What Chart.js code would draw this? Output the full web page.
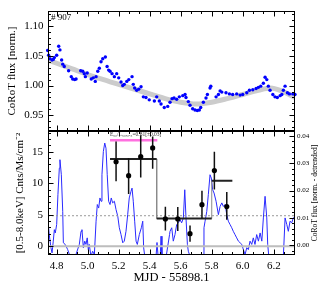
<!DOCTYPE html>
<html>
<head>
<meta charset="utf-8">
<script src="https://cdn.jsdelivr.net/npm/chart.js@4.4.0/dist/chart.umd.min.js"></script>
<style>
  html, body { margin: 0; padding: 0; background: #fff; }
  #wrap { position: relative; width: 327px; height: 291px; }
  #wrap canvas { position: absolute; left: 0; top: 0; }
</style>
</head>
<body>
<div id="wrap">
  <canvas id="fluxChart" width="327" height="291"></canvas>
  <canvas id="xrayChart" width="327" height="291"></canvas>
</div>
<script>
// top panel: CoRoT light curve (MJD - 55898.1 vs normalised flux)
var fluxT = [4.742, 4.748, 4.757, 4.770, 4.778, 4.785, 4.800, 4.813, 4.821, 4.832, 4.839, 4.849, 4.877, 4.894, 4.903,
  4.916, 4.925, 4.955, 4.968, 4.978, 4.985, 4.997, 5.023, 5.036, 5.049, 5.054, 5.065, 5.075, 5.086, 5.097, 5.114,
  5.125, 5.135, 5.144, 5.157, 5.172, 5.187, 5.200, 5.215, 5.226, 5.236, 5.252, 5.265, 5.286, 5.294, 5.303, 5.316,
  5.329, 5.344, 5.359, 5.376, 5.397, 5.430, 5.445, 5.462, 5.473, 5.494, 5.516, 5.531, 5.544,
  5.557, 5.574, 5.591, 5.613, 5.628, 5.634, 5.649, 5.660, 5.677, 5.692, 5.707, 5.720, 5.729, 5.746, 5.763, 5.772,
  5.789, 5.794, 5.828, 5.843, 5.854, 5.865, 5.892, 5.914, 5.935, 5.961, 5.983, 6.000, 6.026, 6.043, 6.065, 6.086,
  6.101, 6.116, 6.133, 6.144, 6.155, 6.165, 6.176, 6.194, 6.208, 6.223, 6.241, 6.252, 6.262, 6.273, 6.288, 6.301,
  6.323, 6.337];
var fluxV = [1.059, 1.051, 1.045, 1.043, 1.044, 1.047, 1.051, 1.066, 1.060, 1.043, 1.036, 1.032, 1.025, 1.015, 1.011,
  1.010, 1.011, 1.025, 1.024, 1.020, 1.015, 1.021, 1.011, 1.013, 1.007, 1.015, 1.024, 1.029, 1.040, 1.045, 1.048,
  1.032, 1.026, 1.024, 1.020, 1.015, 1.020, 1.013, 1.006, 1.000, 1.002, 1.007, 1.010, 1.015, 1.002, 0.996, 0.992,
  0.994, 0.998, 0.981, 0.980, 0.976, 0.974, 0.981, 0.974, 0.969, 0.963, 0.965, 0.972, 0.978,
  0.979, 0.977, 0.981, 0.983, 0.985, 0.980, 0.973, 0.967, 0.961, 0.959, 0.958, 0.959, 0.963, 0.972, 0.979, 0.985,
  0.996, 0.999, 0.981, 0.985, 0.991, 0.989, 0.988, 0.986, 0.985, 0.986, 0.984, 0.985, 0.988, 0.992, 0.993, 0.995,
  0.997, 0.999, 1.004, 1.014, 1.010, 0.999, 0.992, 0.985, 0.981, 0.980, 0.983, 0.985, 0.992, 0.999, 0.988, 0.986,
  0.986, 0.985];

// smooth trend drawn under the light curve
var trendT = [4.744, 4.90, 5.05, 5.20, 5.35, 5.50, 5.60, 5.70, 5.80, 5.90, 6.00, 6.10, 6.18, 6.25, 6.337];
var trendV = [1.043, 1.028, 1.014, 1.002, 0.990, 0.978, 0.972, 0.969, 0.972, 0.978, 0.985, 0.992, 0.996, 0.991, 0.980];

// bottom panel: detrended CoRoT flux (right axis)
var detT = [4.742, 4.752, 4.763, 4.770, 4.778, 4.785, 4.791, 4.800, 4.808, 4.817,
  4.821, 4.830, 4.839, 4.843, 4.855, 4.871, 4.886, 4.918, 4.946, 4.957,
  4.963, 4.972, 4.981, 4.989, 4.997, 5.004, 5.010, 5.021, 5.032, 5.043,
  5.054, 5.062, 5.071, 5.079, 5.086, 5.092, 5.101, 5.110, 5.118, 5.126,
  5.135, 5.144, 5.152, 5.161, 5.172, 5.183, 5.194, 5.204, 5.215, 5.226,
  5.236, 5.247, 5.258, 5.268, 5.279, 5.286, 5.294, 5.303, 5.312, 5.320,
  5.333, 5.346, 5.355, 5.361, 5.368, 5.402, 5.441, 5.447, 5.454, 5.468,
  5.473, 5.479, 5.505, 5.528, 5.531, 5.542, 5.552, 5.563, 5.574, 5.585,
  5.595, 5.606, 5.617, 5.626, 5.634, 5.643, 5.649, 5.660, 5.705, 5.746,
  5.750, 5.757, 5.768, 5.778, 5.789, 5.797, 5.806, 5.815, 5.828, 5.843,
  5.854, 5.865, 5.875, 5.886, 5.897, 5.907, 5.918, 5.929, 5.939, 5.950,
  5.961, 5.972, 5.983, 5.994, 6.004, 6.015, 6.026, 6.036, 6.047, 6.058,
  6.068, 6.079, 6.090, 6.101, 6.112, 6.123, 6.133, 6.144, 6.155, 6.161,
  6.168, 6.215, 6.262, 6.273, 6.284, 6.294, 6.305, 6.316, 6.326, 6.337];
var detV = [0.0100, 0.0039, -0.0009, -0.0028, 0.0015, 0.0057, 0.0045, 0.0076, 0.0185, 0.0282,
  0.0313, 0.0258, 0.0124, 0.0009, 0.0003, -0.0016, -0.0040, -0.0045, 0.0003, 0.0051,
  0.0057, -0.0009, 0.0015, 0.0003, 0.0027, -0.0016, 0.0003, -0.0040, -0.0022, -0.0034,
  0.0088, 0.0149, 0.0136, 0.0173, 0.0161, 0.0258, 0.0343, 0.0374, 0.0355, 0.0258,
  0.0161, 0.0149, 0.0173, 0.0155, 0.0161, 0.0130, 0.0106, 0.0064, 0.0039, 0.0009,
  0.0015, 0.0051, 0.0112, 0.0173, 0.0197, 0.0209, 0.0161, 0.0088, 0.0015, 0.0003,
  0.0039, 0.0064, 0.0088, -0.0009, -0.0040, -0.0045, -0.0040, 0.0010, -0.0040, -0.0040,
  0.0033, -0.0040, -0.0045, 0.0039, 0.0051, 0.0064, 0.0015, 0.0039, 0.0076, 0.0082,
  0.0094, 0.0082, 0.0100, 0.0203, 0.0100, 0.0003, -0.0022, -0.0040, -0.0045, -0.0040,
  0.0064, 0.0088, 0.0124, 0.0185, 0.0258, 0.0246, 0.0203, 0.0191, 0.0161, 0.0112,
  0.0142, 0.0155, 0.0142, 0.0149, 0.0112, 0.0088, 0.0076, 0.0064, 0.0051, 0.0039,
  0.0027, 0.0015, 0.0009, 0.0003, -0.0016, -0.0034, -0.0009, -0.0016, 0.0015, 0.0003,
  0.0027, 0.0003, 0.0039, 0.0015, 0.0045, 0.0015, 0.0100, 0.0179, 0.0100, 0.0003,
  -0.0040, -0.0045, -0.0040, 0.0100, 0.0076, 0.0051, 0.0088, 0.0082, 0.0100, 0.0106];

// X-ray count rates with lower / upper errors (left axis)
var rateT = [5.183, 5.264, 5.342, 5.419, 5.501, 5.581, 5.660, 5.737, 5.817, 5.897];
var rateV = [13.4, 11.2, 14.2, 15.6, 4.33, 4.33, 2.0, 6.6, 12.0, 6.3];
var rateLo = [3.1, 2.9, 3.3, 3.3, 1.85, 1.9, 1.3, 2.2, 3.0, 2.1];
var rateHi = [3.2, 2.8, 3.4, 1.8, 1.95, 1.9, 1.3, 2.2, 3.0, 2.3];

// rate blocks
var blockStart = [5.144, 5.445, 5.800];
var blockEnd = [5.445, 5.800, 5.933];
var blockRate = [13.85, 4.4, 10.4];

// E50 marker and quiescent level
var eSpan = [5.144, 5.449];
var eLevel = 16.8;
var quietLevel = 0.0108;

var xMin = 4.744, xMax = 6.337;
var serif = 'Liberation Serif';

function pts(xs, ys) {
  return xs.map(function (x, i) { return {x: x, y: ys[i]}; });
}

// frame with inward major / minor ticks on every side
var framePlugin = {
  id: 'frame',
  afterDraw: function (chart, args, opts) {
    var ctx = chart.ctx, a = chart.chartArea;
    var L = Math.round(a.left) + 0.5, R = Math.round(a.right) - 0.5;
    var T = Math.round(a.top) + 0.5, B = Math.round(a.bottom) - 0.5;
    ctx.save();
    ctx.strokeStyle = '#000';
    ctx.lineWidth = 1;
    opts.marks.forEach(function (m) {
      var s = chart.scales[m.scale];
      var n0 = Math.ceil(s.min / m.minor - 1e-6), n1 = Math.floor(s.max / m.minor + 1e-6);
      ctx.beginPath();
      for (var i = n0; i <= n1; i++) {
        var v = i * m.minor;
        var q = v / m.major;
        var len = Math.abs(q - Math.round(q)) < 1e-6 ? 5 : 2.5;
        var p = Math.round(s.getPixelForValue(v)) + 0.5;
        m.sides.forEach(function (side) {
          if (side === 'top') { ctx.moveTo(p, T); ctx.lineTo(p, T + len); }
          if (side === 'bottom') { ctx.moveTo(p, B); ctx.lineTo(p, B - len); }
          if (side === 'left') { ctx.moveTo(L, p); ctx.lineTo(L + len, p); }
          if (side === 'right') { ctx.moveTo(R, p); ctx.lineTo(R - len, p); }
        });
      }
      ctx.stroke();
    });
    ctx.strokeRect(L, T, R - L, B - T);
    ctx.restore();
  }
};

// small texts: tag, E50 label, right-hand axis title
var notesPlugin = {
  id: 'notes',
  afterDraw: function (chart, args, opts) {
    var ctx = chart.ctx, a = chart.chartArea;
    ctx.save();
    ctx.fillStyle = '#000';
    if (opts.tag) {
      ctx.font = '9px "' + serif + '"';
      ctx.textBaseline = 'middle';
      ctx.fillText(opts.tag, a.left + 3, a.top + 7);
    }
    if (opts.eText) {
      var xs = chart.scales.x, ys = chart.scales.y;
      ctx.font = '5.5px "' + serif + '"';
      ctx.fillStyle = '#333';
      ctx.textAlign = 'center';
      ctx.textBaseline = 'middle';
      ctx.fillText(opts.eText, xs.getPixelForValue((eSpan[0] + eSpan[1]) / 2) + 2, ys.getPixelForValue(eLevel) - 6);
    }
    if (opts.rightTitle) {
      ctx.fillStyle = '#000';
      ctx.font = '7.5px "' + serif + '"';
      ctx.translate(a.right + 20, (a.top + a.bottom) / 2);
      ctx.rotate(-Math.PI / 2);
      ctx.textAlign = 'center';
      ctx.textBaseline = 'middle';
      ctx.fillText(opts.rightTitle, 0, 0);
    }
    ctx.restore();
  }
};

var noGrid = {display: false, drawTicks: false};

// top panel
new Chart(document.getElementById('fluxChart'), {
  type: 'scatter',
  data: {
    datasets: [{
      data: pts(fluxT, fluxV),
      pointRadius: 1.7,
      pointBorderWidth: 0,
      pointBackgroundColor: '#0000ff',
      clip: 2
    }, {
      data: pts(trendT, trendV),
      showLine: true,
      pointRadius: 0,
      borderColor: '#cccccc',
      borderWidth: 5,
      cubicInterpolationMode: 'monotone'
    }]
  },
  options: {
    responsive: false,
    devicePixelRatio: 1,
    animation: false,
    layout: {padding: {left: 0, right: 32, top: 8, bottom: 160}},
    plugins: {
      legend: {display: false},
      tooltip: {enabled: false},
      frame: {marks: [
        {scale: 'x', major: 0.2, minor: 0.2 / 3, sides: ['top', 'bottom']},
        {scale: 'y', major: 0.05, minor: 0.01, sides: ['left', 'right']}
      ]},
      notes: {tag: '# 907'}
    },
    scales: {
      x: {type: 'linear', min: xMin, max: xMax, display: false},
      y: {
        type: 'linear', min: 0.9236, max: 1.1252,
        grid: noGrid, border: {display: false},
        ticks: {stepSize: 0.05, includeBounds: false, padding: 4.5, color: '#000',
          font: {family: serif, size: 11}, callback: function (v) { return v.toFixed(2); }},
        title: {display: true, text: 'CoRoT flux [norm.]', color: '#000',
          font: {family: serif, size: 11}, padding: {top: 6, bottom: 0}},
        afterFit: function (s) { s.width = 48; }
      }
    }
  },
  plugins: [framePlugin, notesPlugin]
});

// bottom panel
var errData = [];
rateT.forEach(function (t, i) {
  errData.push({x: t, y: rateV[i] - rateLo[i]}, {x: t, y: rateV[i] + rateHi[i]}, {x: t, y: null});
});
var blockData = [], stepData = [];
blockStart.forEach(function (t, i) {
  blockData.push({x: t, y: blockRate[i]}, {x: blockEnd[i], y: blockRate[i]}, {x: t, y: null});
  if (i < blockStart.length - 1) {
    stepData.push({x: blockEnd[i], y: blockRate[i]}, {x: blockEnd[i], y: blockRate[i + 1]}, {x: t, y: null});
  }
});

new Chart(document.getElementById('xrayChart'), {
  type: 'scatter',
  data: {
    datasets: [{
      data: pts(rateT, rateV),
      pointRadius: 2.6,
      pointBorderWidth: 0,
      pointBackgroundColor: '#000'
    }, {
      data: errData, showLine: true, spanGaps: false, pointRadius: 0,
      borderColor: '#111', borderWidth: 1.5
    }, {
      data: blockData, showLine: true, spanGaps: false, pointRadius: 0,
      borderColor: '#222', borderWidth: 2
    }, {
      data: stepData, showLine: true, spanGaps: false, pointRadius: 0,
      borderColor: '#8a8a8a', borderWidth: 1
    }, {
      data: [{x: eSpan[0], y: eLevel}, {x: eSpan[1], y: eLevel}], showLine: true, pointRadius: 0,
      borderColor: '#ff70e0', borderWidth: 2.5
    }, {
      data: [{x: xMin, y: quietLevel}, {x: xMax, y: quietLevel}], yAxisID: 'y2', showLine: true, pointRadius: 0,
      borderColor: '#999', borderWidth: 1, borderDash: [2, 2]
    }, {
      data: [{x: xMin, y: 0}, {x: xMax, y: 0}], showLine: true, pointRadius: 0,
      borderColor: '#bdbdbd', borderWidth: 2
    }, {
      data: pts(detT, detV), yAxisID: 'y2', showLine: true, pointRadius: 0,
      borderColor: '#2a2aff', borderWidth: 1, clip: 0
    }]
  },
  options: {
    responsive: false,
    devicePixelRatio: 1,
    animation: false,
    layout: {padding: {left: 0, right: 0, top: 131, bottom: 0}},
    plugins: {
      legend: {display: false},
      tooltip: {enabled: false},
      frame: {marks: [
        {scale: 'x', major: 0.2, minor: 0.2 / 3, sides: ['top', 'bottom']},
        {scale: 'y', major: 5, minor: 1, sides: ['left']},
        {scale: 'y2', major: 0.01, minor: 0.002, sides: ['right']}
      ]},
      notes: {
        eText: 'E\u2085\u2080/L\u2085\u2080,\u2080.\u2085=0.81[\u00b10.03]',
        rightTitle: 'CoRoT flux [norm. - detrended]'
      }
    },
    scales: {
      x: {
        type: 'linear', min: xMin, max: xMax, position: 'bottom',
        grid: noGrid, border: {display: false},
        ticks: {stepSize: 0.2, includeBounds: false, padding: 5, color: '#000', maxRotation: 0,
          font: {family: serif, size: 11}, callback: function (v) { return v.toFixed(1); }},
        title: {display: true, text: 'MJD - 55898.1', color: '#000',
          font: {family: serif, size: 12.5}, padding: {top: 0, bottom: 6}},
        afterFit: function (s) { s.height = 36; }
      },
      y: {
        type: 'linear', min: -1.39, max: 18.28, position: 'left',
        grid: noGrid, border: {display: false},
        ticks: {stepSize: 5, includeBounds: false, padding: 5, color: '#000',
          font: {family: serif, size: 11}},
        title: {display: true, text: '[0.5-8.0keV] Cnts/Ms/cm\u207b\u00b2', color: '#000',
          font: {family: serif, size: 11}, padding: {top: 14, bottom: 0}},
        afterFit: function (s) { s.width = 48; }
      },
      y2: {
        type: 'linear', min: -0.00357, max: 0.0418, position: 'right',
        grid: noGrid, border: {display: false},
        ticks: {stepSize: 0.01, includeBounds: false, padding: 2, color: '#000',
          font: {family: serif, size: 7}, callback: function (v) { return v.toFixed(2); }},
        afterFit: function (s) { s.width = 32; }
      }
    }
  },
  plugins: [framePlugin, notesPlugin]
});
</script>
</body>
</html>
